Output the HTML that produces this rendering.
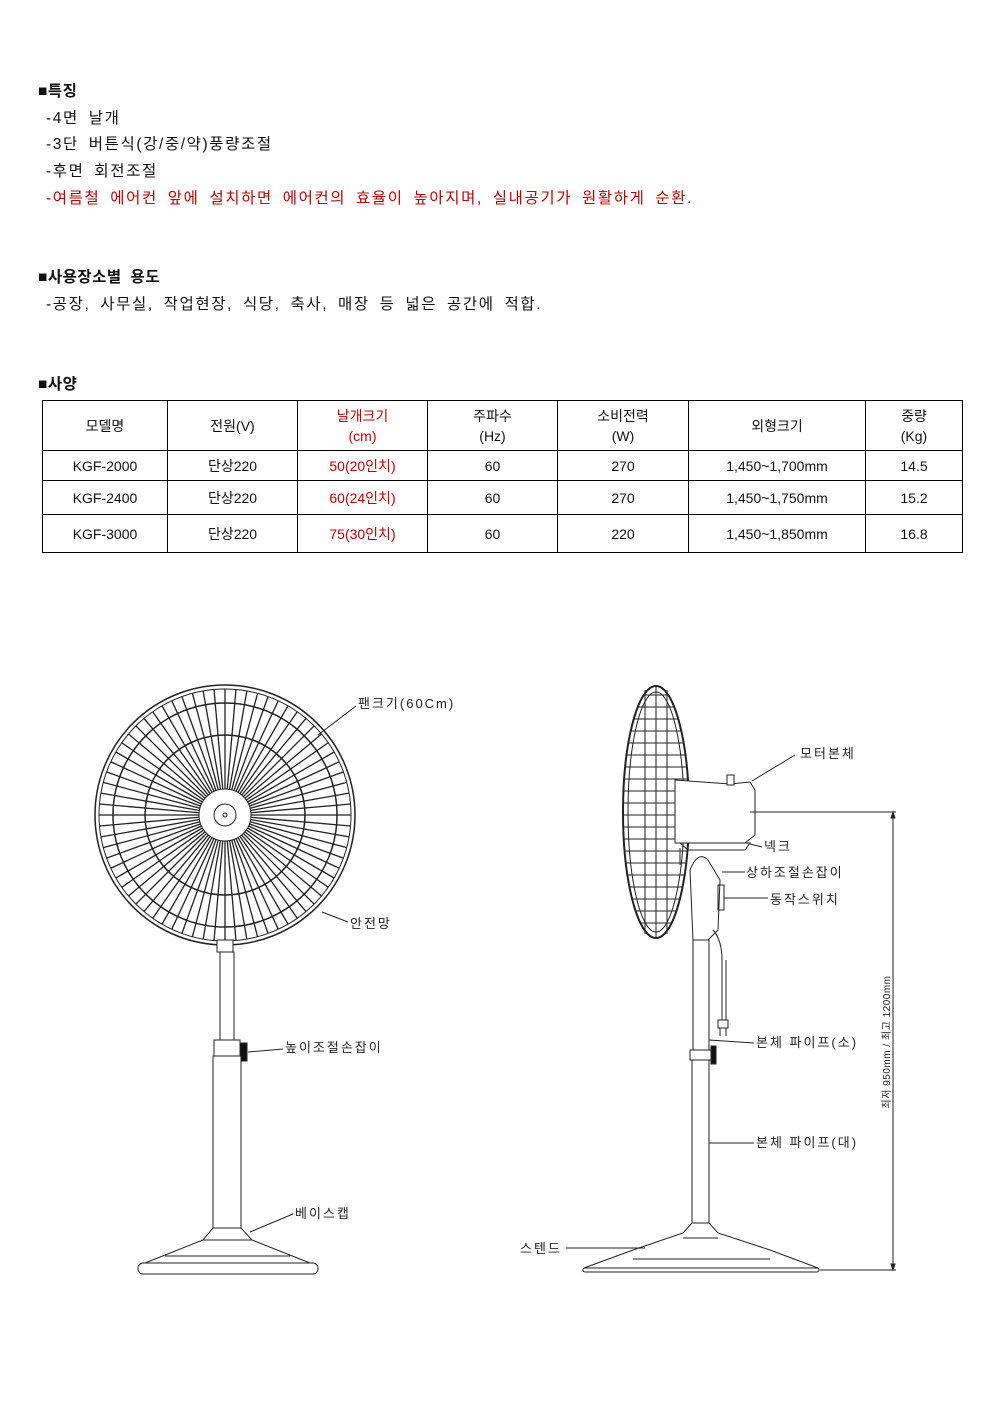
<!DOCTYPE html>
<html><head><meta charset="utf-8">
<style>
body{margin:0;background:#fff;width:992px;height:1403px;position:relative;overflow:hidden;font-family:"Liberation Sans","Noto Sans CJK KR",sans-serif;color:#111}
.t{position:absolute;font-size:15.5px;white-space:nowrap;letter-spacing:1.6px;word-spacing:4px}
.b{font-weight:bold;letter-spacing:0.5px}
.red{color:#c00000}
table{position:absolute;left:42px;top:400px;border-collapse:collapse;font-size:14px}
td{border:1px solid #000;text-align:center;padding:0;line-height:20px}
</style></head><body>
<div class="t b" style="left:38px;top:79px">■특징</div>
<div class="t" style="left:46px;top:106px">-4면 날개</div>
<div class="t" style="left:46px;top:132px">-3단 버튼식(강/중/약)풍량조절</div>
<div class="t" style="left:46px;top:159px">-후면 회전조절</div>
<div class="t red" style="left:46px;top:186px">-여름철 에어컨 앞에 설치하면 에어컨의 효율이 높아지며, 실내공기가 원활하게 순환.</div>
<div class="t b" style="left:38px;top:265px">■사용장소별 용도</div>
<div class="t" style="left:46px;top:292px">-공장, 사무실, 작업현장, 식당, 축사, 매장 등 넓은 공간에 적합.</div>
<div class="t b" style="left:38px;top:372px">■사양</div>
<table>
<tr style="height:50px"><td style="width:124px">모델명</td><td style="width:129px">전원(V)</td><td style="width:129px" class="red">날개크기<br>(cm)</td><td style="width:129px">주파수<br>(Hz)</td><td style="width:130px">소비전력<br>(W)</td><td style="width:176px">외형크기</td><td style="width:96px">중량<br>(Kg)</td></tr>
<tr style="height:30px"><td>KGF-2000</td><td>단상220</td><td class="red">50(20인치)</td><td>60</td><td>270</td><td>1,450~1,700mm</td><td>14.5</td></tr>
<tr style="height:34px"><td>KGF-2400</td><td>단상220</td><td class="red">60(24인치)</td><td>60</td><td>270</td><td>1,450~1,750mm</td><td>15.2</td></tr>
<tr style="height:38px"><td>KGF-3000</td><td>단상220</td><td class="red">75(30인치)</td><td>60</td><td>220</td><td>1,450~1,850mm</td><td>16.8</td></tr>
</table>
<svg id="d" width="992" height="1403" style="position:absolute;left:0;top:0" font-family="Liberation Sans, Noto Sans CJK KR, sans-serif" font-size="13" fill="none" stroke="#222" stroke-width="1">
<g id="spk"></g>
<circle cx="225" cy="815" r="130" stroke-width="1.5"/>
<circle cx="225" cy="815" r="126"/>
<circle cx="225" cy="815" r="112" stroke-width="1.5"/>
<circle cx="225" cy="815" r="80" stroke-width="1.5"/>
<circle cx="225" cy="815" r="26" fill="#fff"/>
<circle cx="225" cy="815" r="11" fill="#fff"/>
<circle cx="225" cy="815" r="2"/>
<rect x="217" y="940" width="16" height="12" fill="#fff"/>
<rect x="220" y="952" width="14" height="88" fill="#fff"/>
<rect x="214" y="1040" width="26" height="16" fill="#fff"/>
<rect x="240" y="1043" width="7" height="18" fill="#111"/>
<rect x="213" y="1056" width="28" height="172" fill="#fff"/>
<path d="M213 1228 L203 1240 L145 1263 L310 1263 L252 1240 L241 1228 Z" fill="#fff"/>
<path d="M203 1240 H252 M165 1256 H290"/>
<rect x="138" y="1263" width="180" height="11" rx="5" fill="#fff"/>
<path d="M318 735 L356 706 M322 912 L348 922 M248 1052 L283 1049 M250 1232 L293 1214"/>
<g fill="#222" stroke="none" letter-spacing="2">
<text x="358" y="708">팬크기(60Cm)</text>
<text x="350" y="928">안전망</text>
<text x="285" y="1052">높이조절손잡이</text>
<text x="295" y="1218">베이스캡</text>
</g>
<g id="rg"></g>
<ellipse cx="656" cy="812" rx="33" ry="126" stroke-width="2"/>
<ellipse cx="656" cy="812" rx="28" ry="120"/>
<path d="M675 780 L730 784 L750 782 L755 790 L755 835 L745 843 L675 843 Z" fill="#fff"/>
<rect x="727" y="775" width="7" height="10" fill="#fff"/>
<path d="M680 843 H750 L745 850 H688 Z M680 848 V865"/>
<path d="M690 870 Q698 850 708 860 L720 880 L718 930 L708 940 L693 940 Z" fill="#fff"/>
<rect x="718" y="885" width="6" height="25"/>
<path d="M713 930 Q722 940 722 960 V1020 M726 960 V1020 M718 1020 h10 v8 h-10 z M720 1028 v8 M726 1028 v8"/>
<rect x="693" y="940" width="16" height="110" fill="#fff"/>
<rect x="690" y="1050" width="21" height="10" fill="#fff"/>
<rect x="711" y="1046" width="5" height="18" fill="#111"/>
<rect x="692" y="1060" width="17" height="163" fill="#fff"/>
<path d="M692 1223 L683 1233 L633 1250 L584 1268 L818 1268 L770 1250 L718 1233 L709 1223 Z" fill="#fff"/>
<path d="M683 1238 H718 M633 1259 H770"/>
<rect x="583" y="1268" width="236" height="4" rx="2" fill="#fff"/>
<path d="M752 781 L795 755 M750 844 L762 847 M722 872 L745 872 M724 898 L768 898 M709 1040 L754 1043 M709 1143 L754 1143 M566 1248 L645 1248"/>
<path d="M750 812 H896 M820 1270 H896 M893 812 V1270" stroke-width="1"/>
<path d="M893 812 l-2 6 h4 z M893 1270 l-2 -6 h4 z" fill="#222"/>
<g fill="#222" stroke="none" letter-spacing="2">
<text x="800" y="758">모터본체</text>
<text x="764" y="851">넥크</text>
<text x="746" y="877">상하조절손잡이</text>
<text x="770" y="904">동작스위치</text>
<text x="756" y="1047">본체 파이프(소)</text>
<text x="756" y="1147">본체 파이프(대)</text>
<text x="520" y="1253">스텐드</text>
<text transform="translate(890,1042) rotate(-90)" text-anchor="middle" font-size="10" letter-spacing="0.5">최저 950mm / 최고 1200mm</text>
</g>
</svg>
<script>
var g=document.getElementById("spk"),s="";
for(var i=0;i<72;i++){var a=i*Math.PI/36,c=Math.cos(a),n=Math.sin(a);
s+='<line x1="'+(225+26*c)+'" y1="'+(815+26*n)+'" x2="'+(225+126*c)+'" y2="'+(815+126*n)+'" stroke-width="1.3"/>';}
g.innerHTML=s;
var r=document.getElementById("rg"),t="";
for(var y=695;y<=930;y+=12){var dy=(y-812)/126,w=33*Math.sqrt(Math.max(0,1-dy*dy));t+='<line x1="'+(656-w)+'" y1="'+y+'" x2="'+(656+w)+'" y2="'+y+'"/>';}
t+='<line x1="656" y1="686" x2="656" y2="938"/><line x1="645" y1="690" x2="645" y2="934"/><line x1="667" y1="690" x2="667" y2="934"/>';
r.innerHTML=t;
</script>
</body></html>
